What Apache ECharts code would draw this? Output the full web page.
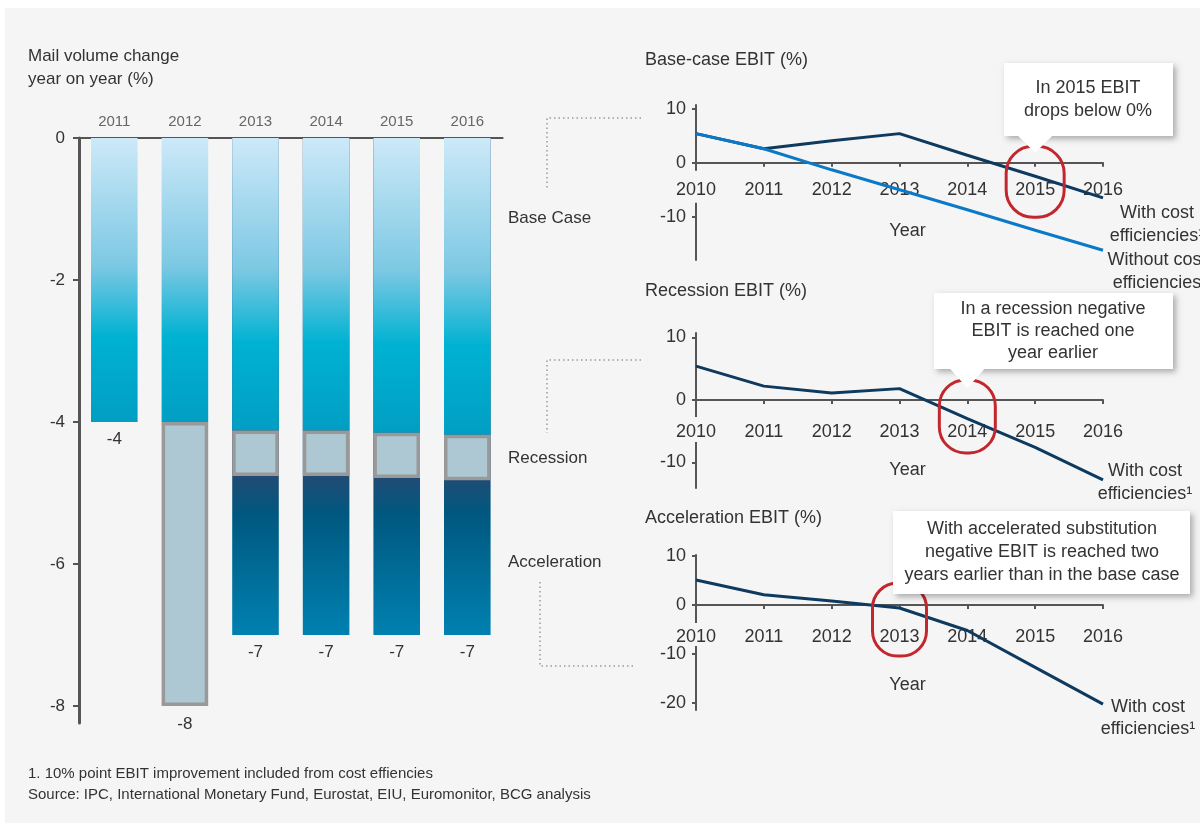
<!DOCTYPE html>
<html>
<head>
<meta charset="utf-8">
<script src="https://cdn.jsdelivr.net/npm/echarts@6/dist/echarts.min.js"></script>
<style>
  html, body { margin: 0; padding: 0; background: #ffffff; }
  #c { width: 1200px; height: 826px; }
</style>
</head>
<body>
<div id="c"></div>
<script>
// Mail volume change year on year (%) per scenario
const volYears = ['2011', '2012', '2013', '2014', '2015', '2016'];
const baseCase = [-4, -4, -4.12, -4.12, -4.15, -4.18];
const recession = [null, -8, -4.76, -4.76, -4.79, -4.82];
const acceleration = [null, null, -7, -7, -7, -7];
const volTicks = [0, -2, -4, -6, -8];

// EBIT (%) per scenario
const ebitYears = ['2010', '2011', '2012', '2013', '2014', '2015', '2016'];
const baseWithCost = [5.4, 2.6, 4.1, 5.4, 1.4, -2.5, -6.5];
const baseWithoutCost = [5.4, 2.6, -1.3, -5.0, -8.7, -12.5, -16.2];
const recessionWithCost = [5.4, 2.2, 1.1, 1.8, -3.0, -7.6, -12.8];
const accelerationWithCost = [5.1, 2.1, 0.8, -0.6, -5.2, -12.7, -20.2];
const ebitTicks = [-10, 0, 10];
const ebitTicksWide = [-20, -10, 0, 10];

const FONT = "'Liberation Sans', Arial, Helvetica, sans-serif";
const INK = '#333333';
const AXIS = '#555555';
const PANEL = '#f5f5f5';
const NAVY = '#0d3a5e';
const BLUE = '#0b79c7';
const RED = '#c3272e';

// plot frames of the three EBIT panels: [top, height, yMin, yMax]
const ebitFrames = [
  [105, 155, -18, 10.7],
  [333, 155, -14.1, 10.7],
  [555, 155, -21.4, 10.2]
];

const chart = echarts.init(document.getElementById('c'), null, { renderer: 'canvas' });

// the year axis sits on the zero line of its panel
function ebitX(gi, pad, margin, gap) {
  const f = ebitFrames[gi - 1];
  const zeroFromBottom = f[1] * (0 - f[2]) / (f[3] - f[2]);
  return {
    type: 'category', gridIndex: gi, data: ebitYears, boundaryGap: false, z: 1,
    position: 'bottom', offset: -zeroFromBottom,
    axisLine: { onZero: false, lineStyle: { color: AXIS, width: 2 } },
    axisTick: { length: 4, lineStyle: { color: AXIS, width: 2 } },
    axisLabel: {
      interval: 0, margin: margin, fontSize: 18, fontFamily: FONT, color: INK,
      backgroundColor: PANEL, padding: pad
    },
    name: 'Year', nameLocation: 'middle', nameGap: gap,
    nameTextStyle: { fontSize: 18, fontFamily: FONT, color: INK, padding: [0, 0, 0, 16] }
  };
}

function ebitY(gi, ticks) {
  const f = ebitFrames[gi - 1];
  return {
    type: 'value', gridIndex: gi, min: f[2], max: f[3], z: 0,
    axisLine: { show: true, lineStyle: { color: AXIS, width: 2 } },
    axisTick: { show: true, length: 4, customValues: ticks, lineStyle: { color: AXIS, width: 2 } },
    axisLabel: { margin: 10, customValues: ticks, fontSize: 18, fontFamily: FONT, color: INK },
    splitLine: { show: false }
  };
}

const baseGradient = new echarts.graphic.LinearGradient(0, 0, 0, 1, [
  { offset: 0, color: '#cde9f8' },
  { offset: 0.45, color: '#7cc8e3' },
  { offset: 0.7, color: '#00b2d2' },
  { offset: 1, color: '#019ec3' }
]);
const accelGradient = new echarts.graphic.LinearGradient(0, 0, 0, 1, [
  { offset: 0, color: '#214b75' },
  { offset: 0.68, color: '#214b75' },
  { offset: 0.755, color: '#00587f' },
  { offset: 1, color: '#0081b1' }
]);

const valueLabel = {
  show: true, position: 'bottom', distance: 9,
  fontSize: 17, fontFamily: FONT, color: INK,
  formatter: function (p) { return String(p.value); }
};

// recession box spans from the base-case value down to the recession value
const recessionRows = [];
recession.forEach(function (v, i) {
  if (v != null) recessionRows.push([i, baseCase[i], v]);
});

const option = {
  animation: false,
  backgroundColor: '#ffffff',
  grid: [
    { left: 79, top: 138, width: 423.6, height: 585 },
    { left: 696, top: ebitFrames[0][0], width: 407, height: ebitFrames[0][1] },
    { left: 696, top: ebitFrames[1][0], width: 407, height: ebitFrames[1][1] },
    { left: 696, top: ebitFrames[2][0], width: 407, height: ebitFrames[2][1] }
  ],
  xAxis: [
    {
      type: 'category', gridIndex: 0, data: volYears, position: 'top',
      axisLine: { onZero: false, lineStyle: { color: AXIS, width: 2 } },
      axisTick: { length: 10, lineStyle: { color: AXIS, width: 2 } },
      axisLabel: { margin: 9, fontSize: 15, fontFamily: FONT, color: '#666666' }
    },
    ebitX(1, [10, 3, 4, 3], 8, 59),
    ebitX(2, [6, 3, 1, 3], 17, 61),
    ebitX(3, [5, 3, 0, 3], 18, 71)
  ],
  yAxis: [
    {
      type: 'value', gridIndex: 0, min: -8.24, max: 0,
      axisLine: { show: true, lineStyle: { color: AXIS, width: 3 } },
      axisTick: { show: true, length: 6, customValues: volTicks, lineStyle: { color: AXIS, width: 2 } },
      axisLabel: { margin: 14, customValues: volTicks, fontSize: 17, fontFamily: FONT, color: INK },
      splitLine: { show: false }
    },
    ebitY(1, ebitTicks),
    ebitY(2, ebitTicks),
    ebitY(3, ebitTicksWide)
  ],
  series: [
    {
      name: 'Acceleration', type: 'bar', xAxisIndex: 0, yAxisIndex: 0,
      barWidth: '66%', barGap: '-100%',
      itemStyle: { color: accelGradient },
      label: valueLabel,
      data: acceleration
    },
    {
      name: 'Base Case', type: 'bar', xAxisIndex: 0, yAxisIndex: 0,
      barWidth: '66%', barGap: '-100%',
      itemStyle: { color: baseGradient },
      label: valueLabel,
      data: baseCase.map(function (v, i) {
        return { value: v, label: { show: recession[i] == null } };
      })
    },
    {
      name: 'Recession', type: 'custom', xAxisIndex: 0, yAxisIndex: 0, z: 3,
      encode: { x: 0, y: [1, 2] },
      data: recessionRows,
      renderItem: function (params, api) {
        const i = api.value(0);
        const top = api.coord([i, api.value(1)]);
        const bottom = api.coord([i, api.value(2)]);
        const w = api.size([1, 0])[0] * 0.66;
        const bw = 3.5;
        const children = [{
          type: 'rect',
          shape: { x: top[0] - w / 2 + bw / 2, y: top[1] + bw / 2, width: w - bw, height: bottom[1] - top[1] - bw },
          style: { fill: '#adc8d3', stroke: '#999999', lineWidth: bw }
        }];
        if (acceleration[i] == null) {
          children.push({
            type: 'text', x: top[0], y: bottom[1] + 10,
            style: {
              text: String(api.value(2)), fill: INK, fontSize: 17, fontFamily: FONT,
              textAlign: 'center', textVerticalAlign: 'top'
            }
          });
        }
        return { type: 'group', children: children };
      }
    },
    {
      name: 'Base with cost efficiencies', type: 'line', xAxisIndex: 1, yAxisIndex: 1,
      data: baseWithCost, showSymbol: false, symbol: 'none',
      lineStyle: { color: NAVY, width: 3 }
    },
    {
      name: 'Base without cost efficiencies', type: 'line', xAxisIndex: 1, yAxisIndex: 1,
      data: baseWithoutCost, showSymbol: false, symbol: 'none',
      lineStyle: { color: BLUE, width: 3 }
    },
    {
      name: 'Recession with cost efficiencies', type: 'line', xAxisIndex: 2, yAxisIndex: 2,
      data: recessionWithCost, showSymbol: false, symbol: 'none',
      lineStyle: { color: NAVY, width: 3 }
    },
    {
      name: 'Acceleration with cost efficiencies', type: 'line', xAxisIndex: 3, yAxisIndex: 3,
      data: accelerationWithCost, showSymbol: false, symbol: 'none',
      lineStyle: { color: NAVY, width: 3 }
    }
  ]
};

chart.setOption(option);

// ---- annotations placed from the axes' own pixel mapping ----
function px(g, i, v) {
  return chart.convertToPixel({ xAxisIndex: g, yAxisIndex: g }, [i, v]);
}

function txt(x, y, text, size, opts) {
  opts = opts || {};
  return {
    type: 'text', x: x, y: y, z: 50, silent: true,
    style: {
      text: text, fill: opts.fill || INK, fontSize: size, fontFamily: FONT,
      textAlign: opts.align || 'left', textVerticalAlign: 'middle',
      lineHeight: opts.lineHeight || size + 5
    }
  };
}

function dotted(points) {
  return {
    type: 'polyline', z: 40, silent: true,
    shape: { points: points },
    style: { stroke: '#9a9a9a', lineWidth: 1.5, lineDash: [1.5, 3], fill: null }
  };
}

function ring(g, idx, dy, w, h) {
  const p = px(g, idx, 0);
  return {
    type: 'rect', z: 55, silent: true,
    shape: { x: p[0] - w / 2, y: p[1] + dy - h / 2, width: w, height: h, r: w / 2 - 2 },
    style: { fill: null, stroke: RED, lineWidth: 3 }
  };
}

function callout(box, lines, lineHeight, textX, pointer) {
  const els = [{
    type: 'rect', z: 60, silent: true,
    shape: { x: box[0], y: box[1], width: box[2], height: box[3] },
    style: {
      fill: '#ffffff', shadowBlur: 6, shadowOffsetX: 3, shadowOffsetY: 3,
      shadowColor: 'rgba(0,0,0,0.3)'
    }
  }];
  if (pointer) {
    els.push({
      type: 'polygon', z: 61, silent: true,
      shape: { points: [[pointer[0] - 18, box[1] + box[3] - 1], [pointer[0] + 18, box[1] + box[3] - 1], pointer] },
      style: { fill: '#ffffff' }
    });
  }
  els.push({
    type: 'text', x: textX, y: box[1] + box[3] / 2, z: 62, silent: true,
    style: {
      text: lines.join('\n'), fill: INK, fontSize: 18, fontFamily: FONT,
      textAlign: 'center', textVerticalAlign: 'middle', lineHeight: lineHeight
    }
  });
  return els;
}

const axisTop = px(1, 0, 0)[1];
const axisMid = px(2, 0, 0)[1];
const endBaseCost = px(1, 6, baseWithCost[6]);
const endBaseNoCost = px(1, 6, baseWithoutCost[6]);
const endRecession = px(2, 6, recessionWithCost[6]);
const endAccel = px(3, 6, accelerationWithCost[6]);

const graphics = [
  {
    type: 'rect', z: -100, silent: true,
    shape: { x: 5, y: 8, width: 1195, height: 815 },
    style: { fill: PANEL }
  },
  txt(28, 67.5, 'Mail volume change\nyear on year (%)', 17, { lineHeight: 23 }),
  txt(508, 218, 'Base Case', 17),
  txt(508, 458, 'Recession', 17),
  txt(508, 562, 'Acceleration', 17),
  txt(645, 60, 'Base-case EBIT (%)', 18),
  txt(645, 291, 'Recession EBIT (%)', 18),
  txt(645, 518, 'Acceleration EBIT (%)', 18),
  dotted([[641, 118], [547, 118], [547, 190]]),
  dotted([[641, 360], [547, 360], [547, 433]]),
  dotted([[540, 582], [540, 666], [635, 666]]),
  txt(endBaseCost[0] + 54, endBaseCost[1] + 26.5, 'With cost\nefficiencies\u00b9', 18, { align: 'center', lineHeight: 23 }),
  txt(endBaseNoCost[0] + 54, endBaseNoCost[1] + 21.5, 'Without cost\nefficiencies', 18, { align: 'center', lineHeight: 23 }),
  txt(endRecession[0] + 42, endRecession[1] + 2.5, 'With cost\nefficiencies\u00b9', 18, { align: 'center', lineHeight: 23 }),
  txt(endAccel[0] + 45, endAccel[1] + 14, 'With cost\nefficiencies\u00b9', 18, { align: 'center', lineHeight: 22 }),
  ring(1, 5, 19, 58, 71),
  ring(2, 4, 16.5, 56, 73),
  ring(3, 3, 14.5, 54, 73),
  txt(28, 784.5, '1. 10% point EBIT improvement included from cost effiencies\nSource: IPC, International Monetary Fund, Eurostat, EIU, Euromonitor, BCG analysis', 15, { lineHeight: 21 })
]
  .concat(callout([1004, 63, 169, 73], ['In 2015 EBIT', 'drops below 0%'], 23, 1088, [px(1, 5, 0)[0], axisTop - 10]))
  .concat(callout([934, 293, 239, 76], ['In a recession negative', 'EBIT is reached one', 'year earlier'], 22, 1053, [px(2, 4, 0)[0], axisMid - 12]))
  .concat(callout([893, 511, 297, 83], ['With accelerated substitution', 'negative EBIT is reached two', 'years earlier than in the base case'], 23, 1042, null));

chart.setOption({ graphic: { elements: graphics } });
</script>
</body>
</html>
